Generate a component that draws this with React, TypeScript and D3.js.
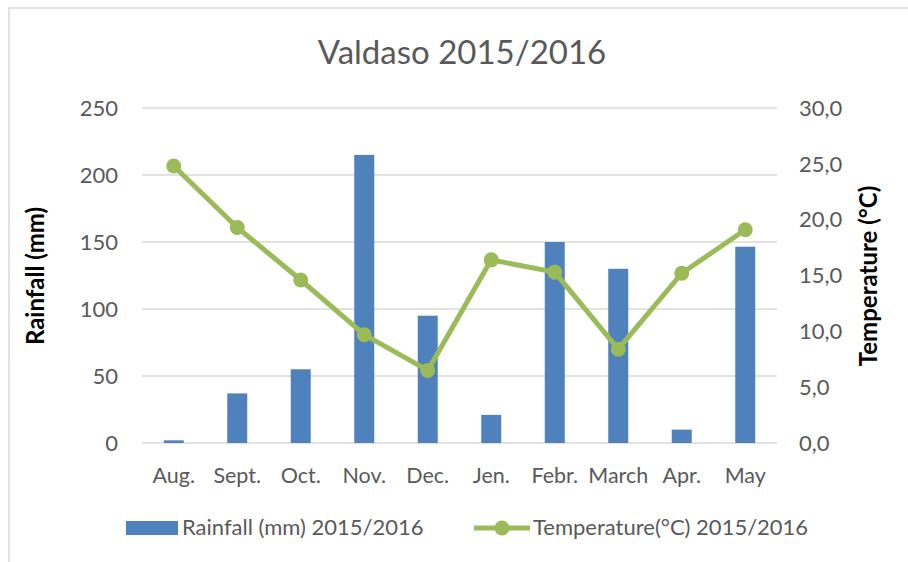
import React from "react";
import * as d3 from "d3";

const months = ["Aug.", "Sept.", "Oct.", "Nov.", "Dec.", "Jen.", "Febr.", "March", "Apr.", "May"];
const rainfall = [2, 37, 55, 215, 95, 21, 150, 130, 10, 146.5];
const temperature = [24.8, 19.3, 14.6, 9.7, 6.5, 16.4, 15.3, 8.4, 15.2, 19.1];
const rainTicks = [0, 50, 100, 150, 200, 250];
const tempTicks = [0, 5, 10, 15, 20, 25, 30];

const W = 908, H = 562;
const left = 142, right = 777, top = 108, bottom = 443;
const font = "Lato, 'Open Sans', sans-serif";
const textColor = "#595959";

export default function App() {
  const x = d3.scaleBand().domain(months).range([left, right]);
  const yR = d3.scaleLinear().domain([0, 250]).range([bottom, top]);
  const yT = d3.scaleLinear().domain([0, 30]).range([bottom, top]);
  const barW = 20;
  const line = d3.line<number>()
    .x((_, i) => x(months[i])! + x.bandwidth() / 2)
    .y(d => yT(d));

  return (
    <svg width={W} height={H} style={{ position: "absolute", left: 0, top: 0 }} fontFamily={font}>
      <rect x={9} y={8} width={W + 10} height={H + 10} fill="#fff" stroke="#d9d9d9" strokeWidth={1.5} />
      <text x={462} y={64} textAnchor="middle" fontSize={33} fill={textColor}>Valdaso 2015/2016</text>

      {rainTicks.map(t => (
        <g key={t}>
          <line x1={left} x2={right} y1={yR(t)} y2={yR(t)} stroke="#d9d9d9" strokeWidth={1.5} />
          <text x={118} y={yR(t)} dy="0.35em" textAnchor="end" fontSize={22} fill={textColor}>{t}</text>
        </g>
      ))}
      {tempTicks.map(t => (
        <text key={t} x={799} y={yT(t)} dy="0.35em" fontSize={22} fill={textColor}>{t.toFixed(1).replace(".", ",")}</text>
      ))}

      {rainfall.map((v, i) => (
        <rect key={i} x={x(months[i])! + x.bandwidth() / 2 - barW / 2} y={yR(v)} width={barW}
          height={bottom - yR(v)} fill="#4f81bd" />
      ))}

      <path d={line(temperature)!} fill="none" stroke="#9bbb59" strokeWidth={5} strokeLinejoin="round" />
      {temperature.map((v, i) => (
        <circle key={i} cx={x(months[i])! + x.bandwidth() / 2} cy={yT(v)} r={7.5} fill="#9bbb59" />
      ))}

      {months.map(m => (
        <text key={m} x={x(m)! + x.bandwidth() / 2} y={483} textAnchor="middle" fontSize={21.5} fill={textColor}>{m}</text>
      ))}

      <text transform={`translate(44,276) rotate(-90)`} textAnchor="middle" fontSize={24} fontWeight="bold" fill="#000">Rainfall (mm)</text>
      <text transform={`translate(877,276) rotate(-90)`} textAnchor="middle" fontSize={24} fontWeight="bold" fill="#000">Temperature (°C)</text>

      <rect x={126} y={521} width={52} height={14} fill="#4f81bd" />
      <text x={182} y={535} fontSize={22} fill={textColor}>Rainfall (mm) 2015/2016</text>
      <line x1={474} x2={530} y1={528} y2={528} stroke="#9bbb59" strokeWidth={5} />
      <circle cx={502} cy={528} r={7.5} fill="#9bbb59" />
      <text x={533} y={535} fontSize={22} fill={textColor}>Temperature(°C) 2015/2016</text>
    </svg>
  );
}
